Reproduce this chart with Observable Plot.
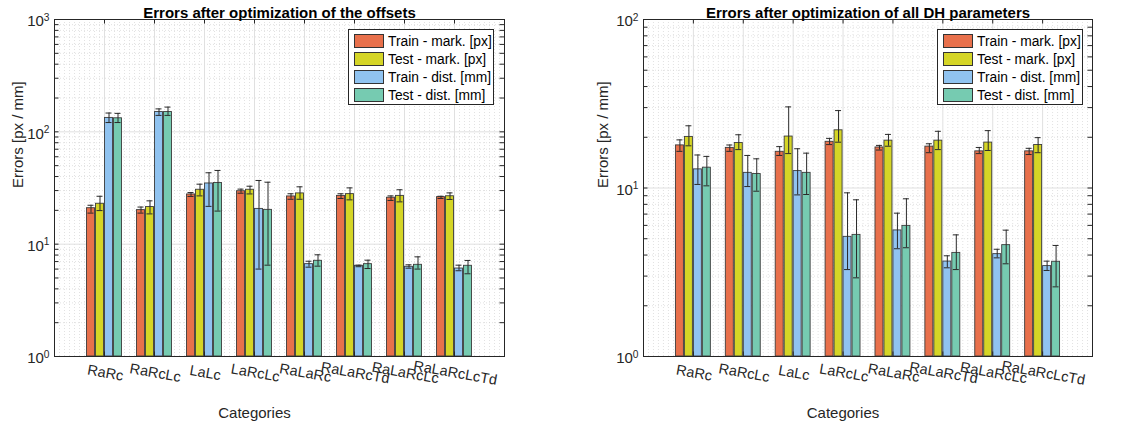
<!DOCTYPE html>
<html><head><meta charset="utf-8">
<script src="https://cdn.jsdelivr.net/npm/d3@7"></script>
<script src="https://cdn.jsdelivr.net/npm/@observablehq/plot@0.6"></script>
<style>
body{margin:0;background:#fff;font-family:"Liberation Sans",Arial,sans-serif;}
#wrap{position:relative;width:1145px;height:428px;overflow:hidden;background:#fff}
.panel{position:absolute;top:0}
.legend{position:absolute;top:29px;width:146px;height:76px;background:#fff;border:1px solid #262626;box-sizing:border-box;font-size:13.8px;color:#000}
.legend .row{position:absolute;left:5px;height:14px;display:flex;align-items:center;white-space:nowrap}
.legend .sw{width:30px;height:14px;border:1px solid #333;box-sizing:border-box;margin-right:4px;flex:none}
</style></head><body><div id="wrap"></div>
<script>
const categories = ["RaRc","RaRcLc","LaLc","LaRcLc","RaLaRc","RaLaRcTd","RaLaRcLc","RaLaRcLcTd"];
const seriesNames = ["Train - mark. [px]","Test - mark. [px]","Train - dist. [mm]","Test - dist. [mm]"];
const seriesColors = ["#e8704b","#d5d526","#90c3f0","#76cbb1"];
const yTickValuesLeft = [1, 10, 100, 1000];
const yTickLabelsLeft = ["10^0","10^1","10^2","10^3"];
const yTickValuesRight = [1, 10, 100];
const yTickLabelsRight = ["10^0","10^1","10^2"];

// Panel 1: errors after optimization of the offsets
const offTrainMark   = [20.9, 20.1, 27.7, 29.6, 26.6, 26.9, 25.9, 26.2];
const offTrainMarkLo = [18.9, 18.9, 26.6, 28.4, 25.1, 25.5, 24.5, 25.5];
const offTrainMarkHi = [22.2, 21.4, 28.8, 30.9, 28.1, 28.1, 26.9, 26.7];
const offTestMark    = [22.9, 21.4, 30.5, 30.5, 28.3, 27.9, 26.9, 26.7];
const offTestMarkLo  = [19.9, 18.6, 26.9, 28.0, 25.1, 24.8, 23.8, 25.0];
const offTestMarkHi  = [26.7, 24.3, 34.2, 32.8, 32.4, 31.7, 30.5, 28.6];
const offTrainDist   = [133, 150, 34.7, 20.6, 6.64, 6.42, 6.29, 6.07];
const offTrainDistLo = [121, 140, 21.7, 6.0, 6.24, 6.30, 6.11, 5.80];
const offTrainDistHi = [147, 160, 43.2, 36.9, 7.05, 6.50, 6.55, 6.50];
const offTestDist    = [132, 150, 35.0, 20.2, 7.11, 6.64, 6.55, 6.42];
const offTestDistLo  = [121, 140, 19.7, 6.5, 6.37, 6.07, 6.00, 5.45];
const offTestDistHi  = [146, 166, 45.3, 35.6, 8.04, 7.20, 7.71, 7.16];

// Panel 2: errors after optimization of all DH parameters
const dhTrainMark   = [17.9, 17.3, 16.4, 18.8, 17.4, 17.6, 16.5, 16.5];
const dhTrainMarkLo = [16.5, 16.5, 15.6, 18.1, 16.8, 16.2, 16.0, 15.8];
const dhTrainMarkHi = [19.3, 18.0, 17.6, 19.7, 17.9, 18.3, 17.4, 17.2];
const dhTestMark    = [20.1, 18.5, 20.2, 22.0, 19.1, 19.1, 18.6, 18.0];
const dhTestMarkLo  = [17.8, 16.9, 16.0, 18.7, 17.7, 16.9, 16.7, 16.2];
const dhTestMarkHi  = [23.4, 20.7, 30.3, 28.8, 20.8, 21.7, 21.9, 19.9];
const dhTrainDist   = [12.9, 12.3, 12.6, 5.13, 5.60, 3.66, 4.05, 3.44];
const dhTrainDistLo = [10.5, 10.2, 9.10, 3.28, 4.36, 3.36, 3.85, 3.24];
const dhTrainDistHi = [15.7, 15.6, 17.1, 9.36, 7.09, 3.96, 4.33, 3.68];
const dhTestDist    = [13.2, 12.1, 12.3, 5.27, 5.96, 4.12, 4.58, 3.65];
const dhTestDistLo  = [10.3, 9.57, 9.15, 2.93, 4.42, 3.28, 3.55, 2.59];
const dhTestDistHi  = [15.4, 14.9, 16.1, 8.51, 8.63, 5.27, 5.62, 4.56];

function buildRows(vals, los, his) {
  const out = [];
  categories.forEach((c, i) => seriesNames.forEach((s, k) => {
    out.push({cat: c, ci: i + 1, si: k, series: s, value: vals[k][i], lo: los[k][i], hi: his[k][i]});
  }));
  return out;
}

const BAR_STEP = 0.18, BAR_W = 0.16, CAP = 0.06;
const center = d => d.ci + (d.si - 1.5) * BAR_STEP;

function panel({left, width, mLeft, mRight, yMax, yTicks, yLabels, title, rows, ylabDx}) {
  const mTop = 19, mBottom = 72, H = 428;
  const nDec = Math.log10(yMax);
  const pxPerDec = (H - mTop - mBottom) / nDec;
  const xMajor = d3.range(1, 9);
  const xMinor = d3.range(1, 90).map(i => i / 10).filter(v => Math.abs(v - Math.round(v)) > 1e-6);
  const yMinor = [];
  for (let e = 0; e < nDec; e++) for (let m = 2; m <= 9; m++) yMinor.push(m * 10 ** e);
  const yAllTicks = yTicks.concat(yMinor);
  const tickLenY = 0.09; // in x units (~4.5px)
  const xTickTop = 10 ** (4.5 / pxPerDec);
  const plot = Plot.plot({
    width, height: H, marginLeft: mLeft, marginRight: mRight, marginTop: mTop, marginBottom: mBottom,
    x: {type: "linear", domain: [0, 9], axis: null},
    y: {type: "log", domain: [1, yMax], axis: null},
    color: {domain: seriesNames, range: seriesColors},
    style: {fontFamily: '"Liberation Sans", Arial, sans-serif', fontSize: "14px", color: "#262626", background: "transparent"},
    marks: [
      Plot.ruleX(xMinor, {x: d => d, stroke: "#cfcfcf", strokeWidth: 0.6, strokeDasharray: "1,2"}),
      Plot.ruleY(yMinor, {y: d => d, stroke: "#cfcfcf", strokeWidth: 0.6, strokeDasharray: "1,2"}),
      Plot.ruleX(xMajor, {x: d => d, stroke: "#e0e0e0", strokeWidth: 1}),
      Plot.ruleY(yTicks, {y: d => d, stroke: "#e0e0e0", strokeWidth: 1}),
      Plot.rectY(rows, {x1: d => center(d) - BAR_W / 2, x2: d => center(d) + BAR_W / 2, y1: 1, y2: "value",
        fill: "series", stroke: "#3c3c3c", strokeWidth: 0.9}),
      Plot.ruleX(rows, {x: center, y1: "lo", y2: "hi", stroke: "#2a2a2a", strokeWidth: 1}),
      Plot.ruleY(rows, {y: "lo", x1: d => center(d) - CAP, x2: d => center(d) + CAP, stroke: "#2a2a2a", strokeWidth: 1}),
      Plot.ruleY(rows, {y: "hi", x1: d => center(d) - CAP, x2: d => center(d) + CAP, stroke: "#2a2a2a", strokeWidth: 1}),
      Plot.ruleY(yAllTicks, {y: d => d, x1: 0, x2: tickLenY, stroke: "#262626"}),
      Plot.ruleY(yAllTicks, {y: d => d, x1: 9 - tickLenY, x2: 9, stroke: "#262626"}),
      Plot.ruleX(xMajor, {x: d => d, y1: 1, y2: xTickTop, stroke: "#262626"}),
      Plot.ruleX(xMajor, {x: d => d, y1: yMax / xTickTop, y2: yMax, stroke: "#262626"}),
      Plot.frame({stroke: "#262626", strokeWidth: 1}),
      Plot.text(yTicks, {y: d => d, frameAnchor: "left", textAnchor: "end", dx: -5, dy: 2,
        text: (d, i) => yLabels[i], fill: "#262626", fontSize: 15}),
      Plot.text(categories, {x: (d, i) => i + 1, frameAnchor: "bottom", dy: 21, rotate: 10,
        text: d => d, fill: "#262626", fontSize: 14.5}),
      Plot.text([title], {frameAnchor: "top", dy: -12, text: d => d, fontWeight: "bold", fontSize: 15, fill: "#000"}),
      Plot.text(["Errors [px / mm]"], {frameAnchor: "left", dx: ylabDx, rotate: -90, text: d => d, fontSize: 15, fill: "#262626"}),
      Plot.text(["Categories"], {frameAnchor: "bottom", dy: 61, dx: -25, text: d => d, fontSize: 15, fill: "#262626"})
    ]
  });
  plot.classList.add("panel");
  plot.style.left = left + "px";
  plot.querySelectorAll("text").forEach(t => {
    if (!t.textContent.includes("^")) return;
    const [base, exp] = t.textContent.split("^");
    t.textContent = base;
    const ts = document.createElementNS("http://www.w3.org/2000/svg", "tspan");
    ts.setAttribute("dy", "-0.55em");
    ts.setAttribute("font-size", "0.68em");
    ts.textContent = exp;
    t.appendChild(ts);
  });
  return plot;
}

function legend(left) {
  const div = document.createElement("div");
  div.className = "legend";
  div.style.left = left + "px";
  seriesNames.forEach((s, k) => {
    const row = document.createElement("div");
    row.className = "row";
    row.style.top = (4 + 18 * k) + "px";
    const sw = document.createElement("span");
    sw.className = "sw";
    sw.style.background = seriesColors[k];
    row.appendChild(sw);
    row.appendChild(document.createTextNode(s));
    div.appendChild(row);
  });
  return div;
}

const wrap = document.getElementById("wrap");
wrap.appendChild(panel({left: 0, width: 572, mLeft: 54, mRight: 68, yMax: 1000,
  yTicks: yTickValuesLeft, yLabels: yTickLabelsLeft,
  title: "Errors after optimization of the offsets",
  rows: buildRows([offTrainMark, offTestMark, offTrainDist, offTestDist],
                  [offTrainMarkLo, offTestMarkLo, offTrainDistLo, offTestDistLo],
                  [offTrainMarkHi, offTestMarkHi, offTrainDistHi, offTestDistHi]),
  ylabDx: -36}));
wrap.appendChild(panel({left: 572, width: 573, mLeft: 71, mRight: 53, yMax: 100,
  yTicks: yTickValuesRight, yLabels: yTickLabelsRight,
  title: "Errors after optimization of all DH parameters",
  rows: buildRows([dhTrainMark, dhTestMark, dhTrainDist, dhTestDist],
                  [dhTrainMarkLo, dhTestMarkLo, dhTrainDistLo, dhTestDistLo],
                  [dhTrainMarkHi, dhTestMarkHi, dhTrainDistHi, dhTestDistHi]),
  ylabDx: -40}));
wrap.appendChild(legend(348));
wrap.appendChild(legend(937));
</script></body></html>
